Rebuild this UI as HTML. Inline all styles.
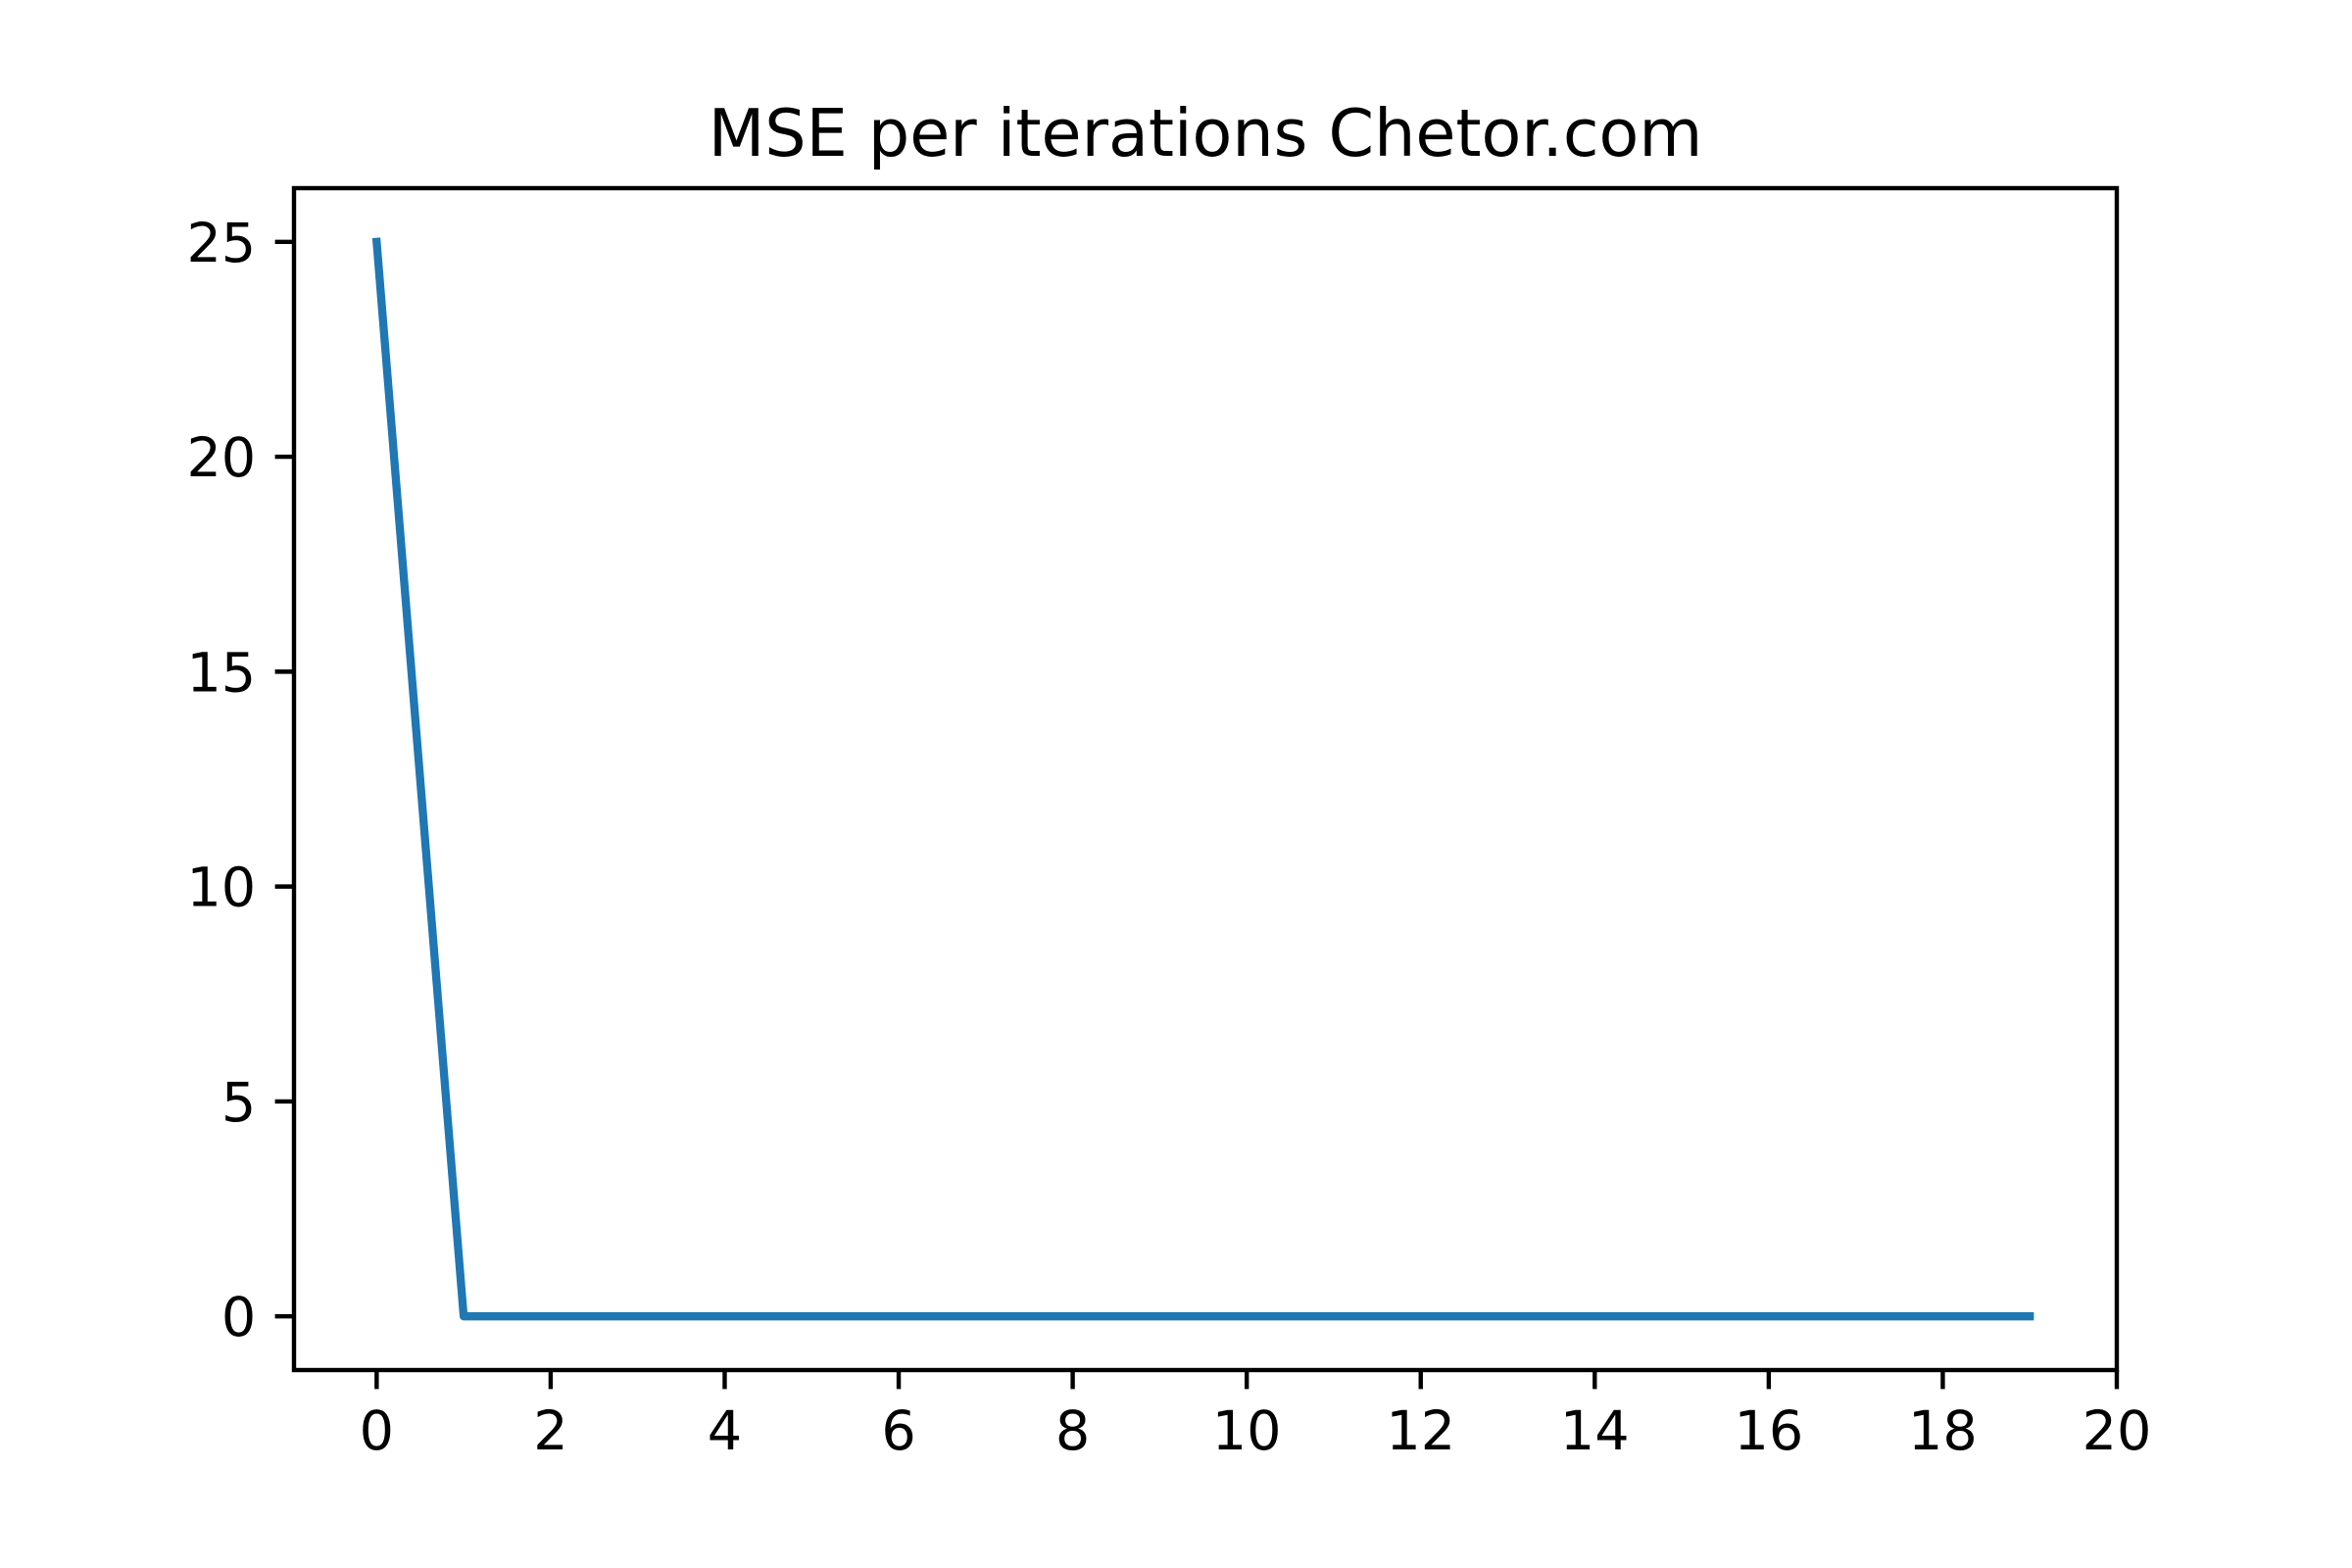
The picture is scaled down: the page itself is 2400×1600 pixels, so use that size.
<!DOCTYPE html>
<html><head><meta charset="utf-8"><style>
html,body{margin:0;padding:0;background:#fff;}
svg{display:block;font-family:"DejaVu Sans","Liberation Sans",sans-serif;}
</style></head><body>
<svg id="chart" width="2400" height="1600" viewBox="0 0 2400 1600">
<rect x="0" y="0" width="2400" height="1600" fill="#fff"/>
<g id="plot"></g>
</svg>
<script>
const iterations = [0,1,2,3,4,5,6,7,8,9,10,11,12,13,14,15,16,17,18,19];
const mseValues = [25,0,0,0,0,0,0,0,0,0,0,0,0,0,0,0,0,0,0,0];
const xTicks = [0,2,4,6,8,10,12,14,16,18,20];
const yTicks = [0,5,10,15,20,25];
const titleText = "MSE per iterations Chetor.com";

const L=300,R=2160,T=192,B=1398;
const xMin=-0.95,xMax=20,yMin=-1.25,yMax=26.25;
const sx=v=>L+(v-xMin)/(xMax-xMin)*(R-L);
const sy=v=>B-(v-yMin)/(yMax-yMin)*(B-T);
const NS="http://www.w3.org/2000/svg";
const g=document.getElementById('plot');
function mk(tag,attrs){const e=document.createElementNS(NS,tag);for(const k in attrs)e.setAttribute(k,attrs[k]);g.appendChild(e);return e;}

const pts=iterations.map((x,i)=>sx(x).toFixed(2)+','+sy(mseValues[i]).toFixed(2)).join(' ');
const line=mk('polyline',{points:pts,fill:'none',stroke:'#1f77b4','stroke-width':8.3,'stroke-linecap':'square','stroke-linejoin':'round'});



const frame=mk('rect',{x:L,y:T,width:R-L,height:B-T,fill:'none',stroke:'#000','stroke-width':4.4});



xTicks.forEach(v=>{
  const x=sx(v);
  const t=mk('line',{x1:x,y1:B,x2:x,y2:B+19.4,stroke:'#000','stroke-width':4.4});
  
  
  const lb=mk('text',{x:x,y:B+19.4+19.4+42,'font-size':55.6,'text-anchor':'middle',fill:'#000'});
  lb.textContent=v;
  
  
});
yTicks.forEach(v=>{
  const y=sy(v);
  const t=mk('line',{x1:L-19.4,y1:y,x2:L,y2:y,stroke:'#000','stroke-width':4.4});
  
  
  const lb=mk('text',{x:L-19.4-19.4,y:y+20,'font-size':55.6,'text-anchor':'end',fill:'#000'});
  lb.textContent=v;
  
  
});
const ti=mk('text',{x:(L+R)/2,y:T-33,'font-size':66.7,'text-anchor':'middle',fill:'#000'});
ti.textContent=titleText;


</script>
</body></html>
